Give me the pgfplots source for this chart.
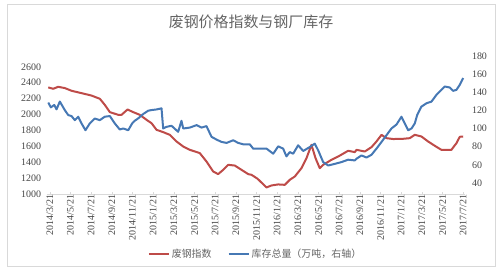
\documentclass[border=0pt]{standalone}
\usepackage{pgfplots}
\pgfplotsset{compat=1.18}
\usepackage{fontspec}
\setmainfont{Liberation Serif}
\newfontfamily\cjk{Noto Sans CJK SC}
\definecolor{cred}{RGB}{190,75,72}
\definecolor{cblue}{RGB}{70,120,180}
\definecolor{ctick}{RGB}{70,70,70}
\definecolor{ctitle}{RGB}{100,100,100}
\begin{document}
\begin{tikzpicture}[x=1bp,y=1bp]
\path (0,0) rectangle (500,270);
\draw[black!15, line width=0.8bp] (7,3.5) rectangle (495,266);
\node[font=\cjk\fontsize{15}{17}\selectfont, text=ctitle] at (251,248) {废钢价格指数与钢厂库存};
\begin{axis}[
  at={(45,96)}, anchor=south west,
  width=418bp, height=127bp, scale only axis,
  xmin=-0.32, xmax=40.13,
  ymin=1000, ymax=2600,
  ytick={1000,1200,...,2600},
  axis x line*=bottom, axis y line*=left,
  x axis line style={draw=black!15, line width=0.6bp, -},
  y axis line style={draw=none},
  xtick={0,2,...,40},
  xticklabels={2014/3/21,2014/5/21,2014/7/21,2014/9/21,2014/11/21,2015/1/21,2015/3/21,2015/5/21,2015/7/21,2015/9/21,2015/11/21,2016/1/21,2016/3/21,2016/5/21,2016/7/21,2016/9/21,2016/11/21,2017/1/21,2017/3/21,2017/5/21,2017/7/21},
  xtick style={draw=black!15},
  major tick length=2bp,
  ytick style={draw=none},
  xticklabel style={rotate=90, anchor=east, font=\fontsize{10}{12}\selectfont, text=ctick, inner sep=1bp},
  yticklabel style={font=\fontsize{10}{12}\selectfont, text=ctick, xshift=-2bp},
  /pgf/number format/assume math mode=true,
  /pgf/number format/1000 sep={},
  clip=false,
]
\addplot[cred, line width=2bp, line join=round] coordinates {
(-0.15,2340) (0.33,2323) (0.81,2348) (1.45,2332) (2.10,2298) (3.07,2268) (4.03,2238) (4.84,2197) (5.32,2121) (5.81,2029) (6.62,1995) (6.94,1995) (7.52,2062) (8.07,2029) (8.71,1995) (9.36,1932) (9.84,1890) (10.33,1806) (10.97,1777) (11.61,1743) (12.26,1659) (12.91,1596) (13.55,1554) (14.51,1513) (15.16,1407) (15.81,1281) (16.29,1248) (16.78,1302) (17.26,1365) (17.90,1356) (18.55,1302) (19.20,1248) (19.52,1239) (20.10,1190) (20.97,1080) (21.45,1105) (22.10,1118) (22.74,1113) (23.22,1176) (23.71,1218) (24.35,1323) (24.84,1450) (25.32,1617) (25.71,1450) (26.12,1323) (26.45,1365) (27.25,1428) (27.91,1470) (28.87,1542) (29.51,1525) (29.68,1554) (30.48,1533) (31.13,1588) (31.61,1659) (32.10,1743) (32.58,1701) (33.23,1690) (34.19,1693) (34.83,1701) (35.32,1743) (35.96,1722) (36.61,1659) (37.25,1605) (37.89,1554) (38.86,1554) (39.35,1638) (39.67,1718) (40.00,1722)
};
\end{axis}
\begin{axis}[
  at={(45,96)}, anchor=south west,
  width=418bp, height=127bp, scale only axis,
  xmin=-0.32, xmax=40.13,
  ymin=40, ymax=180,
  ytick={40,60,...,180},
  axis x line=none, axis y line*=right,
  y axis line style={draw=none},
  ytick style={draw=none},
  yticklabel style={font=\fontsize{10}{12}\selectfont, text=ctick, xshift=4bp},
  /pgf/number format/assume math mode=true,
  clip=false,
  legend style={at={(0.5,-0.56)}, anchor=center, legend columns=2, draw=none, fill=none,
    font=\cjk\fontsize{10}{12}\selectfont, text=ctitle,
    /tikz/every even column/.append style={column sep=14bp}},
  legend image code/.code={\draw[#1] (0bp,0bp) -- (20bp,0bp);},
]
\addlegendimage{cred, line width=2bp}
\addlegendentry{废钢指数}
\addplot[cblue, line width=2bp, line join=round] coordinates {
(-0.15,128.6) (0.10,123.3) (0.43,125.9) (0.65,121.1) (0.97,129.7) (1.45,120.3) (1.78,114.8) (2.10,113.7) (2.42,109.2) (2.75,113) (3.07,105.6) (3.45,98.1) (3.87,105.6) (4.35,111) (4.84,109.2) (5.32,113) (5.81,113.7) (6.29,105.6) (6.77,98.9) (7.10,100) (7.59,98.1) (7.97,105.6) (8.22,108.5) (8.55,111.1) (9.04,116) (9.52,119.6) (9.84,120.3) (10.33,121) (10.81,122.2) (10.97,100) (11.29,101.8) (11.78,103) (12.42,96.3) (12.74,108.5) (12.91,100) (13.55,101) (14.20,103.7) (14.68,101) (15.16,102.6) (15.65,90.8) (16.13,87.8) (16.61,85.2) (17.10,84.1) (17.75,87) (18.23,84.1) (18.71,82.6) (19.35,82.6) (19.68,77.8) (20.16,77.8) (20.97,77.8) (21.62,72.2) (22.10,80.3) (22.58,77.8) (22.90,69.2) (23.22,74) (23.55,72.2) (24.03,81.5) (24.52,75.2) (25.16,79.6) (25.64,83.3) (25.97,75.9) (26.45,63) (26.94,59.2) (27.58,61) (28.23,63) (28.87,65.6) (29.51,64.8) (29.68,66.7) (30.16,70.3) (30.65,68) (31.13,71) (31.61,77.8) (32.10,85.2) (32.58,92.6) (33.06,100) (33.55,104.4) (34.03,113) (34.35,105.6) (34.68,98.1) (35.00,100) (35.32,105.6) (35.55,114.8) (35.96,124.1) (36.45,127.8) (36.93,129.6) (37.41,137) (37.89,142.6) (38.22,146.3) (38.70,145.2) (39.03,141.5) (39.35,142.6) (39.67,148.1) (40.00,155.6)
};
\addlegendentry{库存总量（万吨，右轴）}
\end{axis}
\end{tikzpicture}
\end{document}
